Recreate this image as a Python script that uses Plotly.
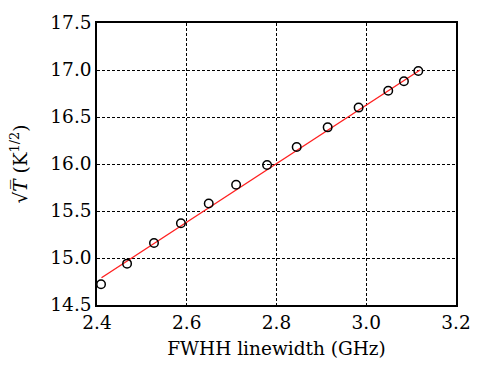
import plotly.graph_objects as go

# data
linewidth_ghz = [2.409, 2.467, 2.527, 2.587, 2.649, 2.710, 2.779, 2.845, 2.914, 2.983, 3.049, 3.084, 3.116]
sqrt_t = [14.72, 14.94, 15.16, 15.37, 15.58, 15.78, 15.99, 16.18, 16.39, 16.60, 16.78, 16.88, 16.99]
fit_x = [2.41, 3.12]
fit_y = [14.79, 17.0]

x_ticks = [2.4, 2.6, 2.8, 3.0, 3.2]
y_ticks = [14.5, 15.0, 15.5, 16.0, 16.5, 17.0, 17.5]

font = "DejaVu Serif"

fig = go.Figure()
fig.add_trace(go.Scatter(x=fit_x, y=fit_y, mode="lines",
                         line=dict(color="#ff2020", width=1.4), showlegend=False))
fig.add_trace(go.Scatter(x=linewidth_ghz, y=sqrt_t, mode="markers",
                         marker=dict(symbol="circle-open", size=8.5, color="black",
                                     line=dict(width=1.5, color="black")),
                         showlegend=False))

axis_common = dict(showline=True, linecolor="black", linewidth=1.5, mirror=True,
                   showgrid=True, gridcolor="black", griddash="3px,2px", gridwidth=1,
                   zeroline=False, ticks="", ticklabeloverflow="allow",
                   tickfont=dict(family=font, size=18.5, color="black"))

fig.update_xaxes(range=[2.4, 3.2], tickvals=x_ticks, ticktext=[f"{v:.1f}" for v in x_ticks],
                 title=dict(text="FWHH linewidth (GHz)", font=dict(family=font, size=18.5, color="black"),
                            standoff=10),
                 **axis_common)
fig.update_yaxes(range=[14.5, 17.5], tickvals=y_ticks, ticktext=[f"{v:.1f}" for v in y_ticks],
                 title=dict(text="√<i>T\u0305</i> (K<sup>1/2</sup>)", font=dict(family=font, size=18.5, color="black"),
                            standoff=18),
                 **axis_common)

fig.update_layout(width=483, height=368, margin=dict(l=97, r=14, t=17, b=59),
                  plot_bgcolor="white", paper_bgcolor="white")

fig.write_html("out.html")
